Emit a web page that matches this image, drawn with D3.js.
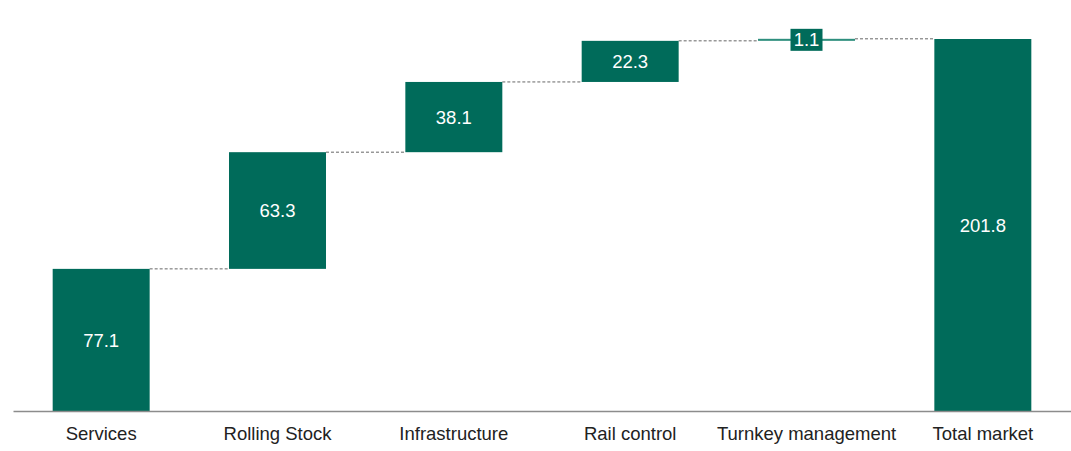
<!DOCTYPE html>
<html>
<head>
<meta charset="utf-8">
<script src="https://cdn.jsdelivr.net/npm/d3@7"></script>
<style>
  body { margin: 0; background: #fff; }
  svg text { font-family: "Liberation Sans", Arial, sans-serif; }
</style>
</head>
<body>
<div id="chart"></div>
<script>
// Data
const categories = ["Services", "Rolling Stock", "Infrastructure", "Rail control", "Turnkey management", "Total market"];
const values = [77.1, 63.3, 38.1, 22.3, 1.1, 201.8];
const isTotal = [false, false, false, false, false, true];

const width = 1071, height = 451;
const baseY = 411, topY = 39;
const green = "#006b5a";

// cumulative start/end for each step
let run = 0;
const steps = categories.map((c, i) => {
    let y0, y1;
    if (isTotal[i]) { y0 = 0; y1 = values[i]; run = values[i]; }
    else { y0 = run; y1 = run + values[i]; run = y1; }
    return { cat: c, value: values[i], y0, y1 };
});

const svg = d3.select("#chart").append("svg")
    .attr("width", width)
    .attr("height", height);

const x = d3.scaleBand()
    .domain(categories)
    .range([13, 1071])
    .paddingInner(0.45)
    .paddingOuter(0.225);

const y = d3.scaleLinear()
    .domain([0, 201.8])
    .range([baseY, topY]);

// connectors
svg.selectAll(".conn")
    .data(steps.slice(0, -1))
    .join("line")
    .attr("x1", d => x(d.cat) + x.bandwidth())
    .attr("x2", (d, i) => x(steps[i + 1].cat))
    .attr("y1", d => y(d.y1))
    .attr("y2", d => y(d.y1))
    .attr("stroke", "#666")
    .attr("stroke-width", 1)
    .attr("stroke-dasharray", "3,2");

// bars
svg.selectAll(".bar")
    .data(steps)
    .join("rect")
    .attr("x", d => x(d.cat))
    .attr("width", x.bandwidth())
    .attr("y", d => y(d.y1))
    .attr("height", d => Math.max(1.5, y(d.y0) - y(d.y1)))
    .attr("fill", d => d.value < 5 ? "#2f8f7e" : green);

// label background for tiny bars
const small = steps.filter(d => y(d.y0) - y(d.y1) < 20);
svg.selectAll(".lblbg")
    .data(small)
    .join("rect")
    .attr("x", d => x(d.cat) + x.bandwidth() / 2 - 16)
    .attr("y", d => y((d.y0 + d.y1) / 2) - 11)
    .attr("width", 32)
    .attr("height", 22)
    .attr("fill", green);

// value labels
svg.selectAll(".val")
    .data(steps)
    .join("text")
    .attr("x", d => x(d.cat) + x.bandwidth() / 2)
    .attr("y", d => y((d.y0 + d.y1) / 2))
    .attr("dy", "0.36em")
    .attr("text-anchor", "middle")
    .attr("fill", "#fff")
    .attr("font-size", 18.5)
    .text(d => d.value.toFixed(1));

// axis
const xAxis = d3.axisBottom(x).tickSize(0).tickPadding(16);
const gx = svg.append("g")
    .attr("transform", `translate(0,${baseY})`)
    .call(xAxis);
gx.select(".domain").attr("stroke", "#8c8c8c").attr("stroke-width", 1.5);
gx.selectAll("text")
    .attr("font-size", 18.5)
    .attr("fill", "#222")
    .style("font-family", "'Liberation Sans', Arial, sans-serif");
</script>
</body>
</html>
